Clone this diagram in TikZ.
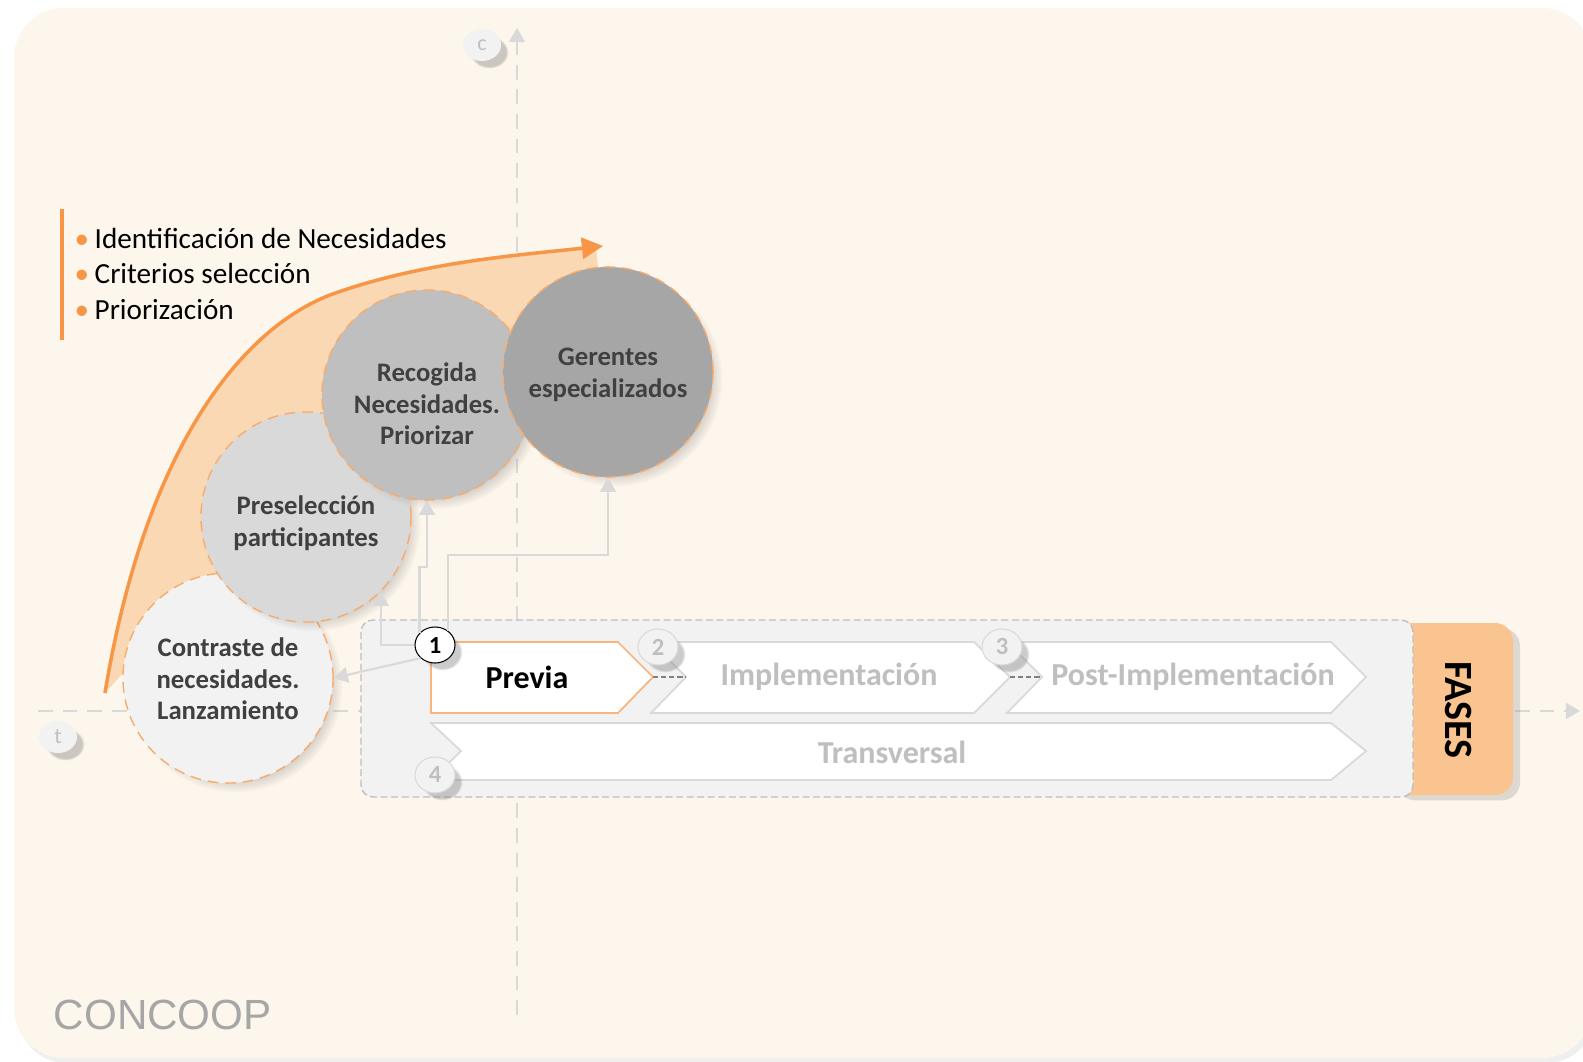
\documentclass[tikz,border=0pt]{standalone}
\usepackage{fontspec}
\setmainfont{Carlito}
\newfontfamily\logofont{Liberation Sans}
\usetikzlibrary{arrows.meta,shapes.geometric,shadows}
\definecolor{crema}{HTML}{FDF6EC}
\definecolor{naranja}{HTML}{F79646}
\definecolor{melocoton}{HTML}{FBD8B4}
\definecolor{pestana}{HTML}{FAC490}
\definecolor{gris}{HTML}{D9D9D9}
\definecolor{grisclaro}{HTML}{F2F2F2}
\definecolor{grismedio}{HTML}{BFBFBF}
\definecolor{grisosc}{HTML}{A6A6A6}
\definecolor{oscuro}{HTML}{404040}
\newcommand{\bul}{\makebox[0.2cm][l]{\textcolor{naranja}{\textbullet}}}

\begin{document}
\begin{tikzpicture}[x=0.01cm, y=-0.01cm,
    sombra/.style={circular drop shadow={opacity=0.4, shadow xshift=2pt, shadow yshift=-2pt, shadow scale=1.02}},
    eje/.style={gris, line width=0.6pt, dash pattern=on 4.2pt off 2.8pt, -{Triangle[length=4pt,width=4.5pt]}},
    flecha/.style={gris, line width=0.6pt, -{Triangle[length=4pt,width=4.5pt]}},
    etapa/.style={circle, minimum size=2.1cm, inner sep=0pt, draw=naranja!80, densely dashed, line width=0.4pt, sombra},
    etapatxt/.style={align=center, text=oscuro, inner sep=0pt, font=\fontsize{7.6}{9}\selectfont\bfseries},
    fase/.style={fill=white, draw=gris, line width=0.5pt},
    faselbl/.style={text=grismedio, font=\fontsize{9.1}{10}\selectfont\bfseries},
    num/.style={ellipse, minimum width=0.4cm, minimum height=0.36cm, inner sep=0pt, fill=grisclaro, draw=gris,
      line width=0.3pt, text=grismedio, font=\fontsize{7}{8}\selectfont\bfseries, sombra},
    ejelbl/.style={ellipse, minimum width=0.38cm, minimum height=0.32cm, inner sep=0pt, fill=grisclaro,
      text=grismedio, font=\fontsize{6.3}{7}\selectfont, sombra},
    item/.style={inner sep=0pt, font=\fontsize{8.3}{9}\selectfont}]
  \useasboundingbox (0,0) rectangle (1583,1061);
  \fill[white] (0,0) rectangle (1583,1061);
  \fill[crema, rounded corners=0.5cm, drop shadow={opacity=0.12, shadow xshift=1pt, shadow yshift=-1.5pt}] (14,8) rectangle (1592,1058);

  \coordinate (torig) at (38,711);
  \coordinate (tfin) at (1580,711);
  \coordinate (cbase) at (517,1015);
  \coordinate (cfin) at (517,28);
  \draw[eje] (torig) -- (tfin);
  \draw[eje] (cbase) -- (cfin);
  \node[ejelbl] (clbl) at (482,45) {c};
  \node[ejelbl] (tlbl) at (58,737) {t};

  \draw[naranja, line width=1pt] (62,209) -- (62,340);
  \foreach \txt [count=\i] in {Identificación de Necesidades, Criterios selección, Priorización}
    \node[item, anchor=base west] (item\i) at (74,214+35*\i) {\bul\txt};

  \fill[melocoton] (105,693) .. controls (145,450) and (240,330) .. (330,295)
    .. controls (420,262) and (520,255) .. (596,247) -- (608,372) -- (427,395) -- (306,517) -- (228,678) -- (123,673) -- cycle;
  \draw[naranja, line width=1pt, -{Triangle[length=6pt,width=6pt]}] (105,693) .. controls (145,450) and (240,330) .. (330,295)
    .. controls (420,262) and (520,255) .. (603,246);

  \node[etapa, fill=grisclaro] (contraste) at (228,678) {};
  \node[etapatxt] (contraste-t) at (228,679) {Contraste de\\necesidades.\\Lanzamiento};
  \node[etapa, fill=gris] (presel) at (306,517) {};
  \node[etapatxt] (presel-t) at (306,523) {Preselección\\participantes};
  \node[etapa, fill=grismedio] (recogida) at (427,395) {};
  \node[etapatxt] (recogida-t) at (427,404) {Recogida\\Necesidades.\\Priorizar};
  \node[etapa, fill=grisosc] (gerentes) at (608,372) {};
  \node[etapatxt] (gerentes-t) at (608,375) {Gerentes\\especializados};

  \fill[pestana, rounded corners=0.18cm, drop shadow={opacity=0.25, shadow xshift=2pt, shadow yshift=-1.5pt}] (1390,623) rectangle (1513,795);
  \node[font=\fontsize{11.4}{12}\selectfont\bfseries, rotate=-90] (fases) at (1458,710) {FASES};
  \draw[fill=grisclaro, draw=grismedio, dash pattern=on 2pt off 1pt, line width=0.4pt, rounded corners=0.12cm] (361,620) rectangle (1413,797);

  \draw[fase, draw=naranja!70] (431,642) -- (618,642) -- (653,677) -- (618,713) -- (431,713) -- cycle;
  \draw[fase] (651,642) -- (974,642) -- (1010,677) -- (974,713) -- (651,713) -- (686,677) -- cycle;
  \draw[fase] (1007,642) -- (1331,642) -- (1366,677) -- (1331,713) -- (1007,713) -- (1042,677) -- cycle;
  \draw[fase] (431,723) -- (1331,723) -- (1366,751) -- (1331,780) -- (431,780) -- (461,751) -- cycle;
  \coordinate (pvtip) at (653,677);
  \coordinate (imnotch) at (686,677);
  \coordinate (imtip) at (1010,677);
  \coordinate (ponotch) at (1042,677);
  \draw[gray, dash pattern=on 1.5pt off 0.8pt, line width=0.6pt] (pvtip) -- (imnotch);
  \draw[gray, dash pattern=on 1.5pt off 0.8pt, line width=0.6pt] (imtip) -- (ponotch);

  \node[faselbl, text=black] (previa) at (527,677) {Previa};
  \node[faselbl] (impl) at (829,677) {Implementación};
  \node[faselbl] (post) at (1193,677) {Post-Implementación};
  \node[faselbl] (transv) at (892,752) {Transversal};

  \node[num, fill=white, draw=black, text=black] (n1) at (435,645) {1};
  \node[num] (n2) at (658,647) {2};
  \node[num] (n3) at (1002,647) {3};
  \node[num] (n4) at (435,775) {4};

  \draw[flecha] (n1.south west) -- (contraste.east);
  \draw[flecha] (n1.west) -| (presel.-45);
  \draw[flecha] (n1.142) -- ++(0,-66) -| (recogida.south);
  \draw[flecha] (n1.47) -- ++(0,-76) -| (gerentes.south);

  \node[font=\logofont\fontsize{12}{14}\selectfont, text=grisosc, anchor=base west, inner sep=0pt] (logo) at (53,1029) {CONCOOP};
\end{tikzpicture}
\end{document}
